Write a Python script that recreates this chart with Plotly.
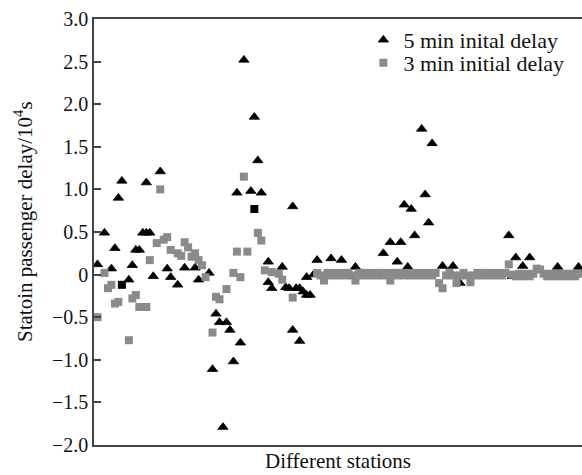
import plotly.graph_objects as go

# ---- data ----
# 5 min initial delay (black triangles): station index, delay (10^4 s)
stations_5min = [1, 3, 5, 6, 7, 8, 10, 11, 12, 13, 14, 15, 16, 17, 19, 21, 22, 24, 26, 29,
                 30, 33, 34, 35, 36, 37, 38, 39, 40, 41, 42, 43, 45, 46, 47, 48, 50, 50, 51, 54,
                 55, 56, 57, 57, 58, 59, 59, 60, 61, 61, 62, 63, 64, 68, 71, 75, 83, 85, 87, 88,
                 89, 90, 91, 92, 94, 95, 96, 97, 100, 103, 105, 119, 120, 121, 123, 125, 133, 139,
                 15]
delay_5min = [0.12, 0.49, 0.07, 0.31, 0.90, 1.10, -0.06, 0.11, 0.29, 0.29, 0.49, 1.08, 0.49, -0.02, 1.21, 0.07, -0.03, -0.12, 0.08, 0.08,
              -0.06, 0.02, -1.11, -0.46, -0.56, -1.79, -0.56, -0.65, -1.02, 0.96, -0.80, 2.52, 0.98, 1.85, 1.34, 0.96, 0.15, -0.09, -0.16, 0.09,
              -0.15, -0.16, 0.80, -0.65, -0.16, -0.78, -0.16, -0.20, -0.03, -0.24, -0.24, 0.00, 0.17, 0.19, 0.17, 0.09, 0.25, 0.38, 0.15, 0.38,
              0.82, 0.09, 0.77, 0.46, 1.71, 0.94, 0.61, 1.54, 0.10, 0.10, -0.10, 0.46, -0.02, 0.20, 0.10, 0.20, 0.09, 0.09,
              0.49]

# 3 min initial delay (grey squares)
stations_3min = [1, 3, 4, 5, 6, 7, 10, 11, 12, 13, 15, 16, 18, 19, 20, 21, 22, 24, 25, 26,
                 27, 28, 29, 30, 31, 32, 34, 35, 36, 38, 40, 41, 42, 43, 44, 47, 48, 49, 51, 53,
                 54, 57,
                 64, 65, 66, 67, 68, 69, 70, 71, 72, 73, 74, 75, 76, 77, 78, 79, 80, 81, 82, 83,
                 84, 85, 86, 87, 88, 89, 90, 91, 92, 93, 94, 95, 96, 97, 98, 99, 100, 101, 102, 103,
                 104, 105, 106, 107, 108, 109, 110, 111, 112, 113, 114, 115, 116, 117, 118, 119, 120, 121,
                 122, 123, 124, 125, 126, 127, 128, 129, 130, 131, 132, 133, 134, 135, 136, 137, 138, 139]
delay_3min = [-0.50, 0.02, -0.16, -0.12, -0.34, -0.32, -0.77, -0.28, -0.24, -0.38, -0.38, 0.17, 0.37, 1.00, 0.41, 0.44, 0.29, 0.25, 0.22, 0.38,
              0.32, 0.21, 0.25, 0.17, 0.11, -0.03, -0.68, -0.26, -0.29, -0.17, 0.02, 0.27, -0.03, 1.15, 0.27, 0.49, 0.40, 0.05, 0.03, 0.01,
              -0.06, -0.27,
              0.02, -0.01, -0.07, 0.02, -0.01, 0.02, -0.01, 0.02, -0.01, 0.02, -0.01, -0.07, 0.02, -0.01, 0.02, -0.01, 0.02, -0.01, 0.02, -0.01,
              0.02, -0.07, 0.02, -0.01, 0.02, -0.01, 0.02, -0.01, 0.02, -0.01, 0.02, -0.01, 0.02, -0.01, 0.02, -0.10, -0.16, -0.01, 0.02, -0.01,
              -0.10, -0.01, 0.02, -0.01, -0.09, -0.01, 0.02, -0.01, 0.02, -0.01, 0.02, -0.01, 0.02, -0.01, 0.02, 0.12, 0.00, -0.02,
              0.01, -0.02, 0.01, -0.02, 0.01, 0.07, 0.06, 0.01, -0.02, 0.01, -0.02, 0.01, -0.02, 0.01, -0.02, 0.01, -0.02, 0.01, -0.02, 0.01]

# points where both symbols overlap (drawn as black squares)
stations_overlap = [8, 46]
delay_overlap = [-0.12, 0.77]

y_ticks = [-2.0, -1.5, -1.0, -0.5, 0.0, 0.5, 1.0, 1.5, 2.0, 2.5, 3.0]
y_tick_labels = ["\u22122.0", "\u22121.5", "\u22121.0", "\u22120.5", "0", "0.5", "1.0", "1.5", "2.0", "2.5", "3.0"]

FONT = "Liberation Serif"
AX = "#444444"
TXT = "#111111"

fig = go.Figure()
fig.add_trace(go.Scatter(
    x=stations_5min, y=delay_5min, mode="markers", name="5 min inital delay", legend="legend",
    marker=dict(symbol="triangle-up", size=9, color="black", line=dict(width=0.8, color="black")),
))
fig.add_trace(go.Scatter(
    x=stations_3min, y=delay_3min, mode="markers", name="3 min initial delay", legend="legend2",
    marker=dict(symbol="square", size=8, color="#8a8a8a", line=dict(width=0)),
))
fig.add_trace(go.Scatter(
    x=stations_overlap, y=delay_overlap, mode="markers", showlegend=False,
    marker=dict(symbol="square", size=8, color="black", line=dict(width=0)),
))

legend_common = dict(xanchor="left", yanchor="top", bgcolor="rgba(0,0,0,0)",
                     font=dict(family=FONT, size=22, color=TXT), itemsizing="trace")

fig.update_layout(
    width=582, height=475,
    margin=dict(l=94, r=0, t=19, b=30),
    paper_bgcolor="white", plot_bgcolor="white",
    font=dict(family=FONT, size=20, color=TXT),
    showlegend=True,
    legend=dict(x=0.552, y=1.0, **legend_common),
    legend2=dict(x=0.552, y=(445 - 42) / 426, **legend_common),
    xaxis=dict(range=[0, 140], showline=True, linecolor=AX, linewidth=1.5, mirror=True,
               ticks="", showticklabels=False, showgrid=False, zeroline=False),
    yaxis=dict(range=[-2, 3], tickvals=y_ticks, ticktext=y_tick_labels,
               ticks="inside", ticklen=7, tickwidth=1.5, tickcolor=AX,
               showline=True, linecolor=AX, linewidth=1.5, mirror=False,
               showgrid=False, zeroline=False, ticklabelstandoff=0,
               tickfont=dict(family=FONT, size=20, color=TXT)),
    annotations=[
        dict(text="Different stations", xref="paper", yref="paper", x=0.5, y=-(461 - 445) / 426,
             xanchor="center", yanchor="middle", showarrow=False,
             font=dict(family=FONT, size=21, color=TXT)),
        dict(text="Statoin passenger delay/10<sup>4</sup>s", xref="paper", yref="paper",
             x=-(94 - 23) / 488, y=(445 - 222) / 426, textangle=-90,
             xanchor="center", yanchor="middle", showarrow=False,
             font=dict(family=FONT, size=21, color=TXT)),
    ],
)

fig.write_html("out.html", config={"displayModeBar": False},
               post_script="document.body.style.margin='0px';document.body.style.overflow='hidden';")
